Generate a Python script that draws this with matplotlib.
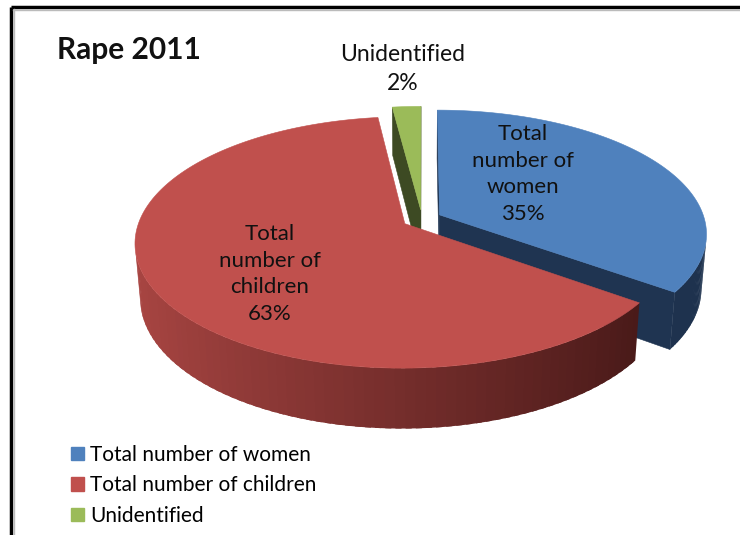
import numpy as np
import matplotlib
matplotlib.use("Agg")
import matplotlib.pyplot as plt
from matplotlib.patches import Polygon, Patch
from matplotlib.colors import to_rgb

# data
categories = ["Total number of women", "Total number of children", "Unidentified"]
values = [35, 63, 2]
title = "Rape 2011"

# look
top_colors = ["#4F81BD", "#C0504D", "#9BBB59"]
side_light = ["#223A5A", "#AA4643", "#3E4C24"]
side_dark = ["#1E324E", "#4A1A19", "#3A4620"]
wall_colors = ["#1F3451", "#5A2120", "#3D4A23"]

plt.rcParams["font.family"] = ["Lato", "DejaVu Sans"]

fig = plt.figure(figsize=(7.4, 5.35), dpi=100)
ax = fig.add_axes([0, 0, 1, 1])
ax.set_xlim(0, 740)
ax.set_ylim(535, 0)
ax.axis("off")

# simple perspective camera for the 3d pie
phi = np.radians(27.3)
s, c = np.sin(phi), np.cos(phi)
D = 5.98
k = 1584.0
cx, cy = 422.0, 219.0
h = 0.233        # thickness
explode = 0.075
cam = np.array([0.0, -D * c, D * s])


def proj(X, Y, Z):
    v = Y * s + Z * c
    w = D + Y * c - Z * s
    return cx + k * X / w, cy - k * v / w


def facing(normal, point):
    return np.dot(normal, cam - point) > 0


def poly(pts3, color, z=1, edge=True):
    xs, ys = proj(*np.array(pts3).T)
    ax.add_patch(Polygon(np.column_stack([xs, ys]), closed=True, facecolor=color,
                         edgecolor=color if edge else "none", lw=0.4, zorder=z))


def mix(a, b, f):
    a, b = np.array(to_rgb(a)), np.array(to_rgb(b))
    return tuple(a + (b - a) * f)


# angles: start at 12 o'clock, go clockwise
total = float(sum(values))
ends = 90 - 360 * np.cumsum(values) / total
starts = np.concatenate([[90], ends[:-1]])
slices = []
for i, v in enumerate(values):
    a1, a2 = np.radians(ends[i]), np.radians(starts[i])
    m = (a1 + a2) / 2
    off = np.array([explode * np.cos(m), explode * np.sin(m), 0.0])
    slices.append((i, a1, a2, m, off))

# back to front
slices.sort(key=lambda t: -np.sin(t[3]))

for i, a1, a2, m, off in slices:
    ox, oy, _ = off
    top0 = np.array([ox, oy, 0.0])
    bot0 = np.array([ox, oy, -h])
    # radial walls
    for a, nrm in ((a1, a1 - np.pi / 2), (a2, a2 + np.pi / 2)):
        n = np.array([np.cos(nrm), np.sin(nrm), 0.0])
        edge = np.array([ox + np.cos(a), oy + np.sin(a), 0.0])
        mid = (top0 + edge) / 2 + np.array([0, 0, -h / 2])
        if facing(n, mid):
            poly([top0, edge, edge + [0, 0, -h], bot0], wall_colors[i], z=1)
    # curved outer side in thin overlapping strips
    ts = np.linspace(a1, a2, 120)
    step = ts[1] - ts[0]
    for t0 in ts[:-1]:
        tm = t0 + step / 2
        n = np.array([np.cos(tm), np.sin(tm), 0.0])
        p = np.array([ox + np.cos(tm), oy + np.sin(tm), -h / 2])
        if not facing(n, p):
            continue
        t1 = min(t0 + step * 1.6, a2)
        f = np.clip((np.cos(tm) + 1) / 1.8, 0, 1)
        col = mix(side_light[i], side_dark[i], f)
        tt = np.linspace(t0, t1, 4)
        pts = [[ox + np.cos(t), oy + np.sin(t), 0] for t in tt] + \
              [[ox + np.cos(t), oy + np.sin(t), -h] for t in tt[::-1]]
        poly(pts, col, z=2, edge=False)
    # top face
    arc = [[ox + np.cos(t), oy + np.sin(t), 0.0] for t in np.linspace(a1, a2, 200)]
    poly([top0] + arc, top_colors[i], z=3)

# labels
ax.text(523, 174, "Total\nnumber of\nwomen\n%d%%" % values[0], ha="center", va="center",
        fontsize=16, linespacing=1.42, color="#111111", zorder=5)
ax.text(270, 274, "Total\nnumber of\nchildren\n%d%%" % values[1], ha="center", va="center",
        fontsize=16, linespacing=1.42, color="#111111", zorder=5)
ax.text(403, 69, "Unidentified\n%d%%" % values[2], ha="center", va="center",
        fontsize=16.5, linespacing=1.45, color="#111111", zorder=5)

ax.text(57, 50, title, ha="left", va="center", fontsize=21.5, fontweight="bold", color="#111111")

handles = [Patch(facecolor=col, edgecolor=col) for col in top_colors]
fig.legend(handles, categories, loc="upper left", bbox_to_anchor=(71 / 740, 1 - 445 / 535),
           frameon=False, fontsize=15, handlelength=0.6, handleheight=0.6,
           handletextpad=0.3, labelspacing=0.5, borderpad=0, borderaxespad=0)

# frame edges
ax.plot([11, 740], [7, 7], color="black", lw=2.5, solid_capstyle="butt", zorder=6)
ax.plot([11, 11], [7, 535], color="black", lw=2.5, solid_capstyle="butt", zorder=6)
ax.plot([13, 740], [9.5, 9.5], color="#BBBBBB", lw=1, zorder=6)
ax.plot([13.5, 13.5], [9, 535], color="#BBBBBB", lw=1, zorder=6)

fig.savefig("out.png", dpi=100)
